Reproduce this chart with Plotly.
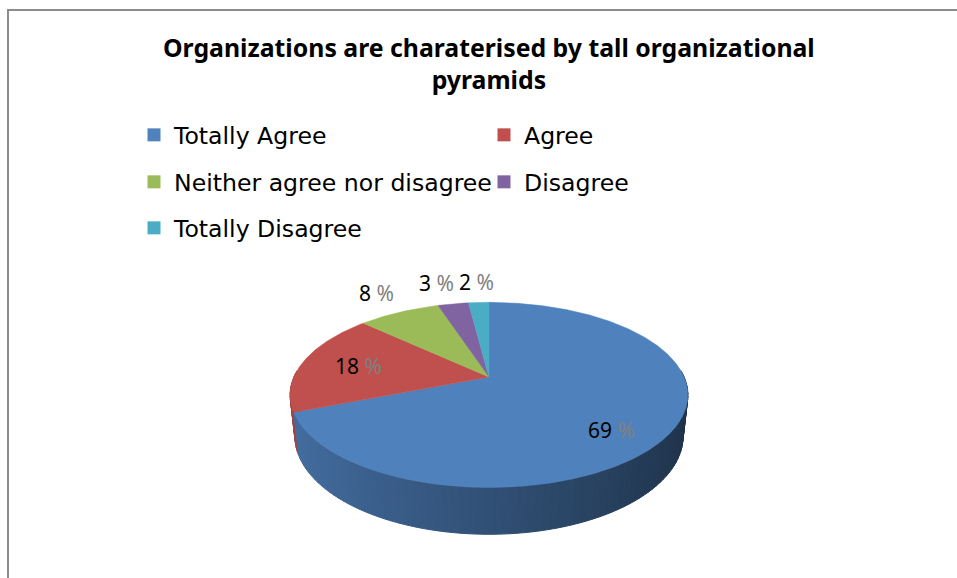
import numpy as np
import plotly.graph_objects as go

# ---- data ----
categories = ["Totally Agree", "Agree", "Neither agree nor disagree", "Disagree", "Totally Disagree"]
values = [69, 18, 8, 3, 2]
colors = ["#4F81BD", "#C0504D", "#9BBB59", "#8064A2", "#4BACC6"]
title_text = "Organizations are charaterised by tall organizational<br>pyramids"

W, H = 957, 578

# ---- 3D projection of the pie (perspective view) ----
CX, CY = 489.0, 377.0     # screen position of the pie centre
K = 897.0                 # projection scale
DIST = 4.597              # camera distance (in radii)
S_PHI, C_PHI = 0.4566, 0.8897   # sin / cos of elevation angle
THICK = 0.239             # pie thickness (in radii)
LABEL_SIZE = 21


def proj(X, Y, Z):
    X = np.asarray(X, float); Y = np.asarray(Y, float); Z = np.asarray(Z, float)
    depth = DIST - Y * S_PHI + Z * C_PHI
    sx = X / depth
    sy = (Y * C_PHI + Z * S_PHI) / depth
    return CX + K * sx, CY - K * sy


def shade(hexcol, f):
    h = hexcol.lstrip("#")
    r, g, b = (int(h[i:i + 2], 16) for i in (0, 2, 4))
    return "rgb(%d,%d,%d)" % (round(r * f), round(g * f), round(b * f))


total = float(sum(values))
bounds = np.concatenate([[0.0], np.cumsum(values) / total * 360.0])

fig = go.Figure()

# side walls (front part only), drawn first
side_segs = []
for i, col in enumerate(colors):
    a0, a1 = max(bounds[i], 86.0), min(bounds[i + 1], 274.0)
    if a1 <= a0:
        continue
    n = max(1, int(np.ceil((a1 - a0) / 2.0)))
    edges = np.linspace(a0, a1, n + 1)
    for j in range(n):
        th = np.radians(np.linspace(edges[j], edges[j + 1], 4))
        X, Z = np.sin(th), np.cos(th)
        xt, yt = proj(X, np.zeros_like(X), Z)
        xb, yb = proj(X, -THICK * np.ones_like(X), Z)
        xs = np.concatenate([xt, xb[::-1], xt[:1]])
        ys = np.concatenate([yt, yb[::-1], yt[:1]])
        xm = np.sin(np.radians((edges[j] + edges[j + 1]) / 2))
        zm = np.cos(np.radians((edges[j] + edges[j + 1]) / 2))
        f = 0.62 - 0.24 * xm
        side_segs.append((zm, xs, ys, shade(col, f)))

side_segs.sort(key=lambda s: -s[0])
for zm, xs, ys, c in side_segs:
    fig.add_trace(go.Scatter(x=xs, y=ys, mode="lines", fill="toself", fillcolor=c,
                             line=dict(color=c, width=1), hoverinfo="skip", showlegend=False))

# top faces
for i, col in enumerate(colors):
    th = np.radians(np.linspace(bounds[i], bounds[i + 1], max(3, int((bounds[i + 1] - bounds[i]) * 2))))
    X, Z = np.sin(th), np.cos(th)
    xa, ya = proj(X, np.zeros_like(X), Z)
    xs = np.concatenate([[CX], xa, [CX]])
    ys = np.concatenate([[CY], ya, [CY]])
    fig.add_trace(go.Scatter(x=xs, y=ys, mode="lines", fill="toself", fillcolor=col,
                             line=dict(color=col, width=0.5), hoverinfo="text",
                             text="%s: %d %%" % (categories[i], values[i]), showlegend=False))

# data labels (positions from slice mid-angles; outside labels de-overlapped)
labels = []
for i in range(len(values)):
    mid = np.radians((bounds[i] + bounds[i + 1]) / 2)
    frac = values[i] / total
    inside = frac > 0.1
    r = 0.7 if inside else 1.3
    X, Z = r * np.sin(mid), r * np.cos(mid)
    lx, ly = proj(X, 0.0, Z)
    ly = float(ly) + 27 * max(0.0, -np.cos(mid)) - (0 if inside else 3)
    txt = "%d %%" % values[i]
    wpx = LABEL_SIZE * (0.57 * len(str(values[i])) + 0.26 + 0.84)
    labels.append(dict(x=float(lx), y=ly, w=wpx, inside=inside, v=values[i]))

outside = sorted([l for l in labels if not l["inside"]], key=lambda l: -l["x"])
for a, b in zip(outside[:-1], outside[1:]):
    need = a["x"] - (a["w"] / 2 + b["w"] / 2 + 5)
    if b["x"] > need:
        b["x"] = need

for l in labels:
    fig.add_annotation(x=l["x"], y=l["y"], xref="x", yref="y", showarrow=False,
                       xanchor="center", yanchor="middle",
                       text="%d <span style='color:#808080'>%%</span>" % l["v"],
                       font=dict(family="Noto Sans", size=LABEL_SIZE, color="#000000"))

# legend entries (three rows)
legend_of = ["legend", "legend", "legend2", "legend2", "legend3"]
for i, name in enumerate(categories):
    fig.add_trace(go.Scatter(x=[None], y=[None], mode="markers", name=name,
                             marker=dict(symbol="square", size=13, color=colors[i]),
                             legend=legend_of[i], showlegend=True))

leg_common = dict(orientation="h", entrywidth=305, entrywidthmode="pixels",
                  font=dict(family="DejaVu Sans", size=23.6, color="#000000"),
                  bgcolor="rgba(0,0,0,0)", xanchor="left", yanchor="middle",
                  itemclick=False, itemdoubleclick=False)
lx0 = 134 / W
fig.update_layout(
    legend=dict(x=lx0, y=1 - 135 / H, **leg_common),
    legend2=dict(x=lx0, y=1 - 182 / H, **leg_common),
    legend3=dict(x=lx0, y=1 - 228 / H, **leg_common),
)

# title
fig.add_annotation(x=489 / W, y=1 - 63 / H, xref="paper", yref="paper", showarrow=False,
                   xanchor="center", yanchor="middle",
                   text="<b>" + title_text + "</b>", align="center",
                   font=dict(family="Noto Sans", size=24.8, color="#000000"))

# chart border
fig.add_shape(type="rect", xref="paper", yref="paper", x0=8 / W, x1=1.05, y0=-0.05, y1=1 - 10 / H,
              line=dict(color="#8c8c8c", width=2), fillcolor="rgba(0,0,0,0)", layer="above")

fig.update_layout(
    width=W, height=H, margin=dict(l=0, r=0, t=0, b=0),
    paper_bgcolor="white", plot_bgcolor="white",
    xaxis=dict(range=[0, W], visible=False, fixedrange=True),
    yaxis=dict(range=[H, 0], visible=False, fixedrange=True),
    showlegend=True,
)

fig.write_html("out.html")
